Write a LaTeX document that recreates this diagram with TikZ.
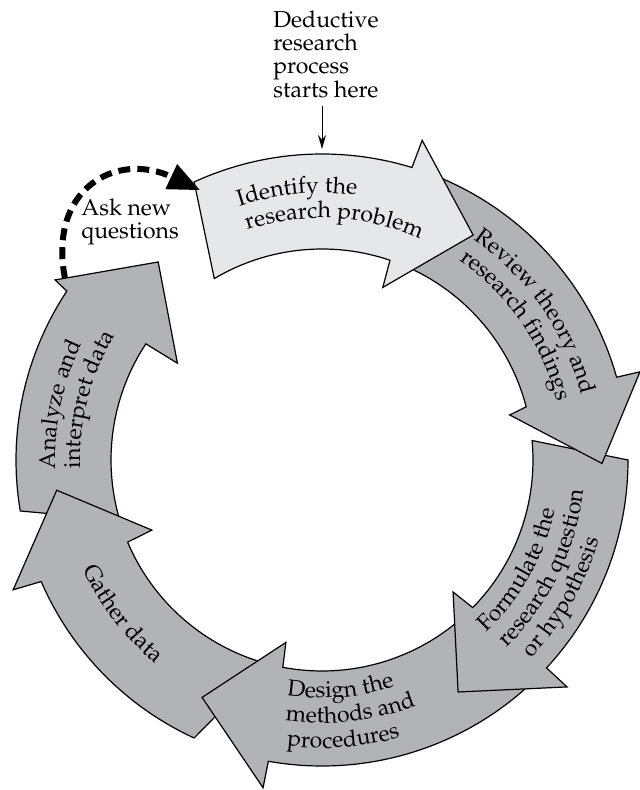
\documentclass[tikz,border=0pt]{standalone}
\usepackage[T1]{fontenc}
\renewcommand{\rmdefault}{ppl}
\usetikzlibrary{arrows.meta,decorations.text}

\definecolor{stepdark}{RGB}{177,179,182}
\definecolor{steplight}{RGB}{230,231,232}

\newcommand{\ringout}{306}
\newcommand{\ringin}{211}
\newcommand{\ringfont}{\fontsize{11.5}{12}\selectfont}

\tikzset{
  >=Stealth,
  stage/.style={draw=black, line width=0.6pt, line join=miter, fill=stepdark},
  ringtext/.style={decorate, decoration={text along path, text align=left, text={|\ringfont|#1}}},
  note/.style={font=\fontsize{11.5}{11.7}\selectfont, align=left, inner sep=0pt},
  pointer/.style={-{Stealth[length=7pt,width=4pt]}, line width=0.5pt},
  loopback/.style={-{Triangle[length=16pt,width=13pt]}, line width=3pt, dash pattern=on 6pt off 3.5pt}
}

\begin{document}
\begin{tikzpicture}[x=0.5pt, y=0.5pt]
\useasboundingbox (-322,-330) rectangle (318,460);

% Analyze and interpret data
\draw[stage] (189.6:\ringout) arc[start angle=189.6, end angle=146.5, radius=\ringout]
  -- (146:322) -- (129.6:257) -- (146.2:174)
  -- (146.6:\ringin) arc[start angle=146.6, end angle=196.5, radius=\ringin] -- cycle;
\path[ringtext={Analyze and}] (182:267) arc[start angle=182, end angle=80, radius=267];
\path[ringtext={interpret data}] (182:242) arc[start angle=182, end angle=80, radius=242];

% Gather data
\draw[stage] (-114.7:\ringout) arc[start angle=-114.7, end angle=-156.6, radius=\ringout]
  -- (-157.2:335) -- (-173.5:267) -- (-157.6:184)
  -- (-157.1:\ringin) arc[start angle=-157.1, end angle=-105, radius=\ringin] -- cycle;
\path[ringtext={Gather data}] (-155.5:263) arc[start angle=-155.5, end angle=-55, radius=263];

% Design the methods and procedures
\draw[stage] (-47:\ringout) arc[start angle=-47, end angle=-100.1, radius=\ringout]
  -- (-100.2:333) -- (-116.8:266) -- (-101.2:186)
  -- (-100.7:\ringin) arc[start angle=-100.7, end angle=-47, radius=\ringin] -- cycle;
\path[ringtext={Design the}] (-98.5:238) arc[start angle=-98.5, end angle=0, radius=238];
\path[ringtext={methods and}] (-98:263) arc[start angle=-98, end angle=0, radius=263];
\path[ringtext={procedures}] (-97:288) arc[start angle=-97, end angle=0, radius=288];

% Formulate the research question
\draw[stage] (0:\ringout) arc[start angle=0, end angle=-42.8, radius=\ringout]
  -- (-42.8:334) -- (-59.6:269) -- (-45.2:186)
  -- (-44.4:\ringin) arc[start angle=-44.4, end angle=5.3, radius=\ringin] -- cycle;
\path[ringtext={Formulate the}] (-46.5:238) arc[start angle=-46.5, end angle=55, radius=238];
\path[ringtext={research question}] (-45.5:263) arc[start angle=-45.5, end angle=55, radius=263];
\path[ringtext={or hypothesis}] (-43.5:288) arc[start angle=-43.5, end angle=55, radius=288];

% Review theory
\draw[stage] (68:\ringout) arc[start angle=68, end angle=15.7, radius=\ringout]
  -- (15.5:330) -- (-0.7:280) -- (13.5:193)
  -- (14.6:\ringin) arc[start angle=14.6, end angle=68, radius=\ringin] -- cycle;
\path[ringtext={Review theory and}] (55.5:267) arc[start angle=55.5, end angle=-45, radius=267];
\path[ringtext={research findings}] (55.5:242) arc[start angle=55.5, end angle=-45, radius=242];

% Identify the problem (first step, light)
\draw[stage, fill=steplight] (114.7:\ringout) arc[start angle=114.7, end angle=72.9, radius=\ringout]
  -- (72.6:335) -- (56.1:271) -- (70.6:183)
  -- (71.2:\ringin) arc[start angle=71.2, end angle=120.7, radius=\ringin] -- cycle;
\path[ringtext={Identify the}] (108:267) arc[start angle=108, end angle=10, radius=267];
\path[ringtext={research problem}] (108:242) arc[start angle=108, end angle=10, radius=242];

% entry point
\node[note, anchor=north west] (start) at (-49,450) {Deductive\\research\\process\\starts here};
\coordinate (entry) at (0,311);
\draw[pointer, shorten <=4pt] (start.south -| entry) -- (entry);

% loop back to the first step
\node[note, anchor=north west] (asknew) at (-241,262) {Ask new\\questions};
\coordinate (askfrom) at (144.7:315);
\coordinate (askto) at (114.3:296);
\draw[loopback] (askfrom) .. controls +(-17,88) and +(-85,40) .. (askto);

\end{tikzpicture}
\end{document}
